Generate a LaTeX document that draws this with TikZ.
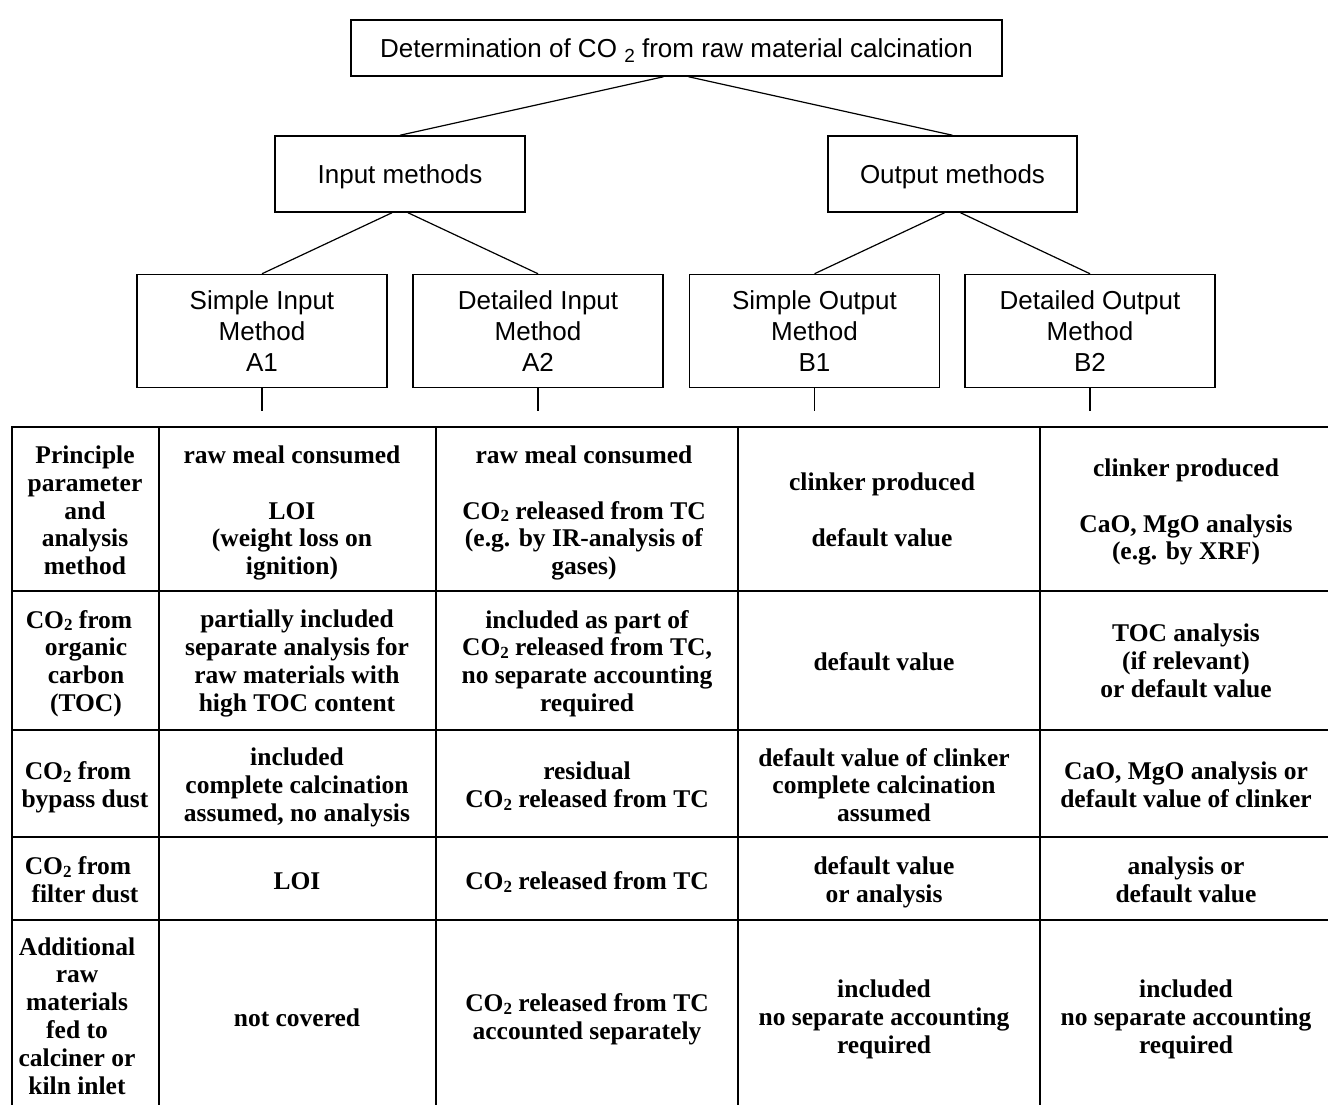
\documentclass[tikz,border=0pt]{standalone}
\usepackage{fontspec}
\setmainfont{Liberation Serif}
\newfontfamily\arialf{Liberation Sans}
\newcommand\COtwo{CO\raisebox{-0.1em}{\fontsize{17}{17}\selectfont 2}}
\begin{document}
\begin{tikzpicture}[x=1pt,y=-1pt,
  box/.style={draw, line width=1.5pt, inner sep=0pt, align=center,
    font=\arialf\fontsize{26}{31}\selectfont,
    execute at begin node={\rule{0pt}{25pt}}},
  conn/.style={line width=1.2pt},
  gridline/.style={line width=2.4pt},
  cell/.style={align=center, inner sep=0pt,
    font=\bfseries\fontsize{25.5}{27.8}\selectfont,
    execute at begin node=\strut, execute at end node=\strut}]
\useasboundingbox (0,0) rectangle (1328,1105);

% --- tree ---
\node[box, minimum width=651pt, minimum height=56pt] (top) at (676.5,48)
  {Determination of CO\ \raisebox{-5pt}{\fontsize{19}{19}\selectfont 2} from raw material calcination};
\node[box, minimum width=250pt, minimum height=76pt] (inp) at (400,174) {Input methods};
\node[box, minimum width=249pt, minimum height=76pt] (out) at (952.5,174) {Output methods};
\node[box, minimum width=250pt, minimum height=113pt] (s1) at (262,331) {Simple Input\\Method\\A1};
\node[box, minimum width=250pt, minimum height=113pt] (d1) at (538,331) {Detailed Input\\Method\\A2};
\node[box, minimum width=250pt, minimum height=113pt] (s2) at (814.5,331) {Simple Output\\Method\\B1};
\node[box, minimum width=250pt, minimum height=113pt] (d2) at (1090,331) {Detailed Output\\Method\\B2};

\draw[conn] ([xshift=-13pt]top.south) -- (inp.north);
\draw[conn] ([xshift=12pt]top.south) -- (out.north);
\draw[conn] ([xshift=-8pt]inp.south) -- (s1.north);
\draw[conn] ([xshift=8pt]inp.south) -- (d1.north);
\draw[conn] ([xshift=-8pt]out.south) -- (s2.north);
\draw[conn] ([xshift=8pt]out.south) -- (d2.north);

\coordinate (t1) at ([yshift=-23pt]s1.south);
\coordinate (t2) at ([yshift=-23pt]d1.south);
\coordinate (t3) at ([yshift=-23pt]s2.south);
\coordinate (t4) at ([yshift=-23pt]d2.south);
\draw[conn] (s1.south) -- (t1);
\draw[conn] (d1.south) -- (t2);
\draw[conn] (s2.south) -- (t3);
\draw[conn] (d2.south) -- (t4);

% --- table ---
\draw[gridline] (12,1105) -- (12,427) -- (1328,427);
\foreach \yy in {591,730,837,920} \draw[gridline] (12,\yy) -- (1328,\yy);
\foreach \xx in {159,436,738,1040} \draw[gridline] (\xx,427) -- (\xx,1105);

% row 1
\node[cell] (c10) at (85,514.5) {Principle\\parameter\\and\\analysis\\method};
\node[cell] (c11) at (292,514.5) {raw meal consumed\\[27.8pt]LOI\\(weight loss on\\ignition)};
\node[cell] (c12) at (584,514.5) {raw meal consumed\\[27.8pt]\COtwo{} released from TC\\(e.g. by IR-analysis of\\gases)};
\node[cell] (c13) at (882,514) {clinker produced\\[27.8pt]default value};
\node[cell] (c14) at (1186,513.5) {clinker produced\\[27.8pt]CaO, MgO analysis\\(e.g. by XRF)};
% row 2
\node[cell] (c20) at (86,665) {\COtwo{} from\hspace*{14pt}\\organic\\carbon\\(TOC)};
\node[cell] (c21) at (297,665) {partially included\\separate analysis for\\raw materials with\\high TOC content};
\node[cell] (c22) at (587,665) {included as part of\\\COtwo{} released from TC,\\no separate accounting\\required};
\node[cell] (c23) at (884,665) {default value};
\node[cell] (c24) at (1186,665) {TOC analysis\\(if relevant)\\or default value};
% row 3
\node[cell] (c30) at (85,789) {\COtwo{} from\hspace*{14pt}\\bypass dust};
\node[cell] (c31) at (297,789) {included\\complete calcination\\assumed, no analysis};
\node[cell] (c32) at (587,789) {residual\\\COtwo{} released from TC};
\node[cell] (c33) at (884,789) {default value of clinker\\complete calcination\\assumed};
\node[cell] (c34) at (1186,789) {CaO, MgO analysis or\\default value of clinker};
% row 4
\node[cell] (c40) at (85,884) {\COtwo{} from\hspace*{14pt}\\filter dust};
\node[cell] (c41) at (297,884) {LOI};
\node[cell] (c42) at (587,884) {\COtwo{} released from TC};
\node[cell] (c43) at (884,884) {default value\\or analysis};
\node[cell] (c44) at (1186,884) {analysis or\\default value};
% row 5
\node[cell] (c50) at (77,1020) {Additional\\raw\\materials\\fed to\\calciner or\\kiln inlet};
\node[cell] (c51) at (297,1021) {not covered};
\node[cell] (c52) at (587,1021) {\COtwo{} released from TC\\accounted separately};
\node[cell] (c53) at (884,1021) {included\\no separate accounting\\required};
\node[cell] (c54) at (1186,1021) {included\\no separate accounting\\required};
\end{tikzpicture}
\end{document}
